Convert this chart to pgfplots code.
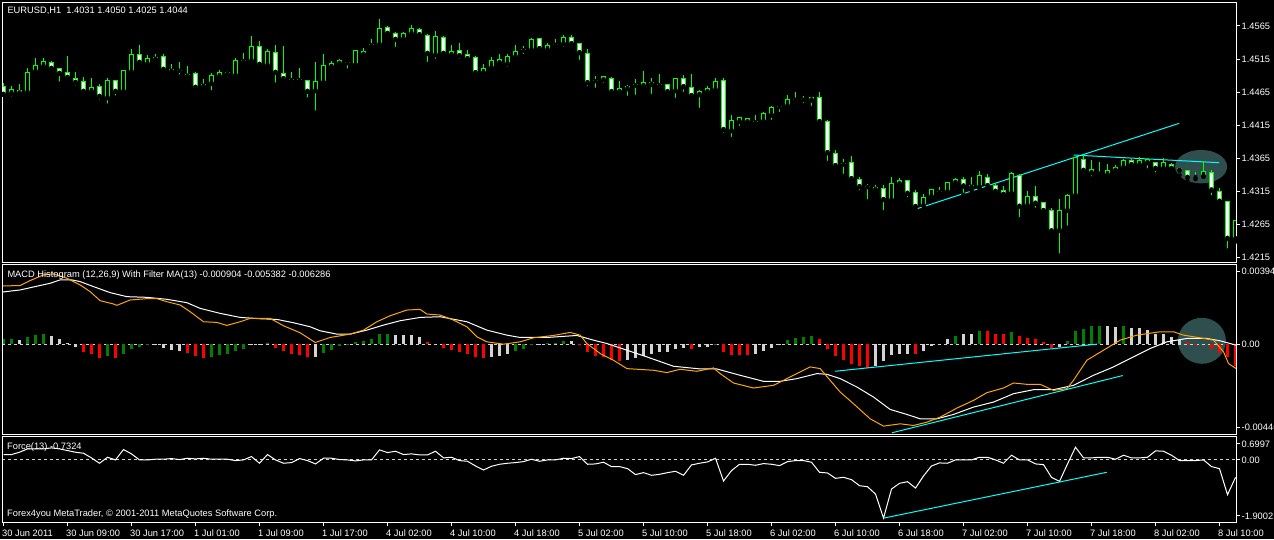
\documentclass[border=0pt]{standalone}
\usepackage{fontspec}
\setmainfont{Liberation Sans}
\usepackage{pgfplots}
\usepackage{pgfplotstable}
\pgfplotsset{compat=1.18}

\definecolor{mtgreen}{HTML}{00FF00}
\definecolor{hgreen}{HTML}{008000}
\definecolor{hred}{HTML}{FF0000}
\definecolor{hgray}{HTML}{D3D3D3}
\definecolor{morange}{HTML}{FFA500}
\definecolor{tline}{HTML}{00FFFF}
\definecolor{blob}{HTML}{2F4F4F}
\newcommand\mtfont{\fontsize{9.3}{11}\selectfont}

% EURUSD H1: bar index, open, high, low, close
\pgfplotstableread{
i o h l c
0 1.44734 1.44784 1.44609 1.44619
1 1.44634 1.44744 1.44553 1.44684
2 1.44669 1.44774 1.44568 1.44639
3 1.44649 1.45011 1.44609 1.44950
4 1.44966 1.45162 1.44955 1.45056
5 1.45041 1.45162 1.44996 1.45107
6 1.45102 1.45122 1.44945 1.45011
7 1.45011 1.45011 1.44779 1.44935
8 1.44950 1.45197 1.44810 1.44875
9 1.44860 1.44955 1.44719 1.44800
10 1.44815 1.44875 1.44598 1.44664
11 1.44664 1.44860 1.44619 1.44724
12 1.44739 1.44774 1.44507 1.44588
13 1.44568 1.44860 1.44447 1.44830
14 1.44830 1.44835 1.44568 1.44664
15 1.44664 1.44986 1.44649 1.44981
16 1.44961 1.45298 1.44915 1.45212
17 1.45222 1.45363 1.45071 1.45102
18 1.45081 1.45212 1.45061 1.45162
19 1.45177 1.45227 1.45097 1.45147
20 1.45192 1.45227 1.44961 1.44996
21 1.44986 1.45071 1.44945 1.44981
22 1.44981 1.45107 1.44885 1.44981
23 1.44920 1.45046 1.44885 1.44890
24 1.44930 1.44950 1.44659 1.44724
25 1.44769 1.44845 1.44689 1.44739
26 1.44784 1.44940 1.44644 1.44905
27 1.44890 1.44986 1.44825 1.44955
28 1.44950 1.44976 1.44845 1.44925
29 1.44905 1.45162 1.44875 1.45132
30 1.45122 1.45237 1.45097 1.45122
31 1.45127 1.45499 1.45097 1.45343
32 1.45343 1.45419 1.45036 1.45071
33 1.45056 1.45298 1.45006 1.45268
34 1.45253 1.45363 1.44764 1.44950
35 1.44935 1.45348 1.44840 1.44855
36 1.44835 1.44955 1.44764 1.44835
37 1.44835 1.45016 1.44800 1.44835
38 1.44830 1.44830 1.44538 1.44664
39 1.44674 1.45107 1.44341 1.44805
40 1.44800 1.45227 1.44795 1.45056
41 1.45036 1.45117 1.44976 1.45076
42 1.45087 1.45152 1.45056 1.45127
43 1.45097 1.45107 1.44976 1.45097
44 1.45066 1.45288 1.45061 1.45273
45 1.45258 1.45323 1.45212 1.45222
46 1.45363 1.45454 1.45308 1.45363
47 1.45373 1.45756 1.45338 1.45615
48 1.45630 1.45655 1.45474 1.45540
49 1.45540 1.45565 1.45303 1.45449
50 1.45459 1.45565 1.45439 1.45540
51 1.45535 1.45665 1.45499 1.45605
52 1.45590 1.45620 1.45499 1.45519
53 1.45509 1.45524 1.45076 1.45237
54 1.45217 1.45570 1.45122 1.45494
55 1.45479 1.45499 1.45187 1.45237
56 1.45217 1.45358 1.45152 1.45268
57 1.45283 1.45393 1.45122 1.45202
58 1.45222 1.45288 1.45107 1.45157
59 1.45177 1.45197 1.44925 1.44945
60 1.44945 1.45071 1.44945 1.45011
61 1.45021 1.45177 1.45001 1.45132
62 1.45147 1.45227 1.45061 1.45097
63 1.45081 1.45227 1.45001 1.45192
64 1.45187 1.45363 1.45157 1.45268
65 1.45288 1.45348 1.45197 1.45288
66 1.45293 1.45474 1.45258 1.45449
67 1.45464 1.45469 1.45273 1.45308
68 1.45293 1.45393 1.45258 1.45358
69 1.45373 1.45454 1.45318 1.45373
70 1.45383 1.45514 1.45303 1.45479
71 1.45479 1.45509 1.45353 1.45383
72 1.45388 1.45398 1.45107 1.45248
73 1.45237 1.45298 1.44709 1.44795
74 1.44825 1.44895 1.44684 1.44825
75 1.44880 1.44900 1.44759 1.44840
76 1.44860 1.44875 1.44624 1.44659
77 1.44659 1.44820 1.44659 1.44709
78 1.44739 1.44754 1.44563 1.44704
79 1.44759 1.44850 1.44578 1.44759
80 1.44749 1.44971 1.44699 1.44800
81 1.44800 1.44865 1.44593 1.44769
82 1.44759 1.44925 1.44684 1.44759
83 1.44769 1.44769 1.44624 1.44659
84 1.44674 1.44865 1.44533 1.44850
85 1.44860 1.44910 1.44624 1.44734
86 1.44724 1.44925 1.44593 1.44598
87 1.44614 1.44689 1.44382 1.44664
88 1.44659 1.44739 1.44624 1.44699
89 1.44689 1.44865 1.44624 1.44805
90 1.44820 1.44860 1.44004 1.44085
91 1.44070 1.44306 1.43943 1.44216
92 1.44206 1.44271 1.44110 1.44271
93 1.44256 1.44256 1.44171 1.44206
94 1.44201 1.44306 1.44130 1.44201
95 1.44211 1.44351 1.44201 1.44331
96 1.44306 1.44442 1.44201 1.44422
97 1.44432 1.44457 1.44321 1.44432
98 1.44447 1.44603 1.44397 1.44533
99 1.44543 1.44654 1.44502 1.44543
100 1.44543 1.44593 1.44457 1.44543
101 1.44563 1.44563 1.44412 1.44533
102 1.44573 1.44654 1.44155 1.44206
103 1.44211 1.44231 1.43581 1.43737
104 1.43727 1.43777 1.43506 1.43541
105 1.43566 1.43637 1.43385 1.43566
106 1.43591 1.43687 1.43300 1.43345
107 1.43335 1.43370 1.43134 1.43224
108 1.43224 1.43264 1.42999 1.43224
109 1.43214 1.43249 1.43109 1.43179
110 1.43199 1.43249 1.42838 1.43029
111 1.43024 1.43370 1.42999 1.43264
112 1.43310 1.43350 1.43209 1.43269
113 1.43320 1.43320 1.43034 1.43124
114 1.43139 1.43169 1.42883 1.42923
115 1.42938 1.43109 1.42933 1.43064
116 1.43074 1.43189 1.43059 1.43174
117 1.43149 1.43214 1.43124 1.43149
118 1.43149 1.43300 1.43114 1.43280
119 1.43285 1.43360 1.43234 1.43335
120 1.43335 1.43370 1.43099 1.43234
121 1.43244 1.43370 1.43164 1.43214
122 1.43224 1.43461 1.43194 1.43385
123 1.43365 1.43410 1.43199 1.43239
124 1.43234 1.43274 1.43124 1.43154
125 1.43169 1.43239 1.43089 1.43109
126 1.43124 1.43445 1.43124 1.43415
127 1.43395 1.43415 1.42732 1.42928
128 1.42938 1.43164 1.42913 1.43069
129 1.43069 1.43239 1.42873 1.42974
130 1.42979 1.42994 1.42848 1.42863
131 1.42858 1.42898 1.42551 1.42556
132 1.42566 1.43039 1.42181 1.42858
133 1.42868 1.43118 1.42601 1.43094
134 1.43094 1.43677 1.43064 1.43657
135 1.43637 1.43697 1.43395 1.43471
136 1.43476 1.43627 1.43345 1.43435
137 1.43425 1.43596 1.43415 1.43425
138 1.43405 1.43566 1.43395 1.43471
139 1.43471 1.43551 1.43405 1.43506
140 1.43516 1.43647 1.43466 1.43611
141 1.43621 1.43642 1.43541 1.43556
142 1.43556 1.43667 1.43526 1.43621
143 1.43627 1.43647 1.43466 1.43586
144 1.43586 1.43601 1.43405 1.43501
145 1.43501 1.43652 1.43476 1.43581
146 1.43556 1.43576 1.43481 1.43501
147 1.43501 1.43526 1.43395 1.43471
148 1.43471 1.43476 1.43305 1.43365
149 1.43375 1.43451 1.43335 1.43375
150 1.43380 1.43606 1.43375 1.43451
151 1.43440 1.43476 1.43059 1.43174
152 1.43149 1.43209 1.42999 1.43004
153 1.43004 1.43004 1.42257 1.42443
154 1.42438 1.42717 1.42393 1.42717
}\candles

% MACD histogram: index, value, colour code (0 gray, 1 green, 2 red)
\pgfplotstableread{
i v k
0 0.000265 1
1 0.000265 1
2 0.000215 0
3 0.000364 1
4 0.000463 1
5 0.000530 1
6 0.000414 0
7 0.000281 0
8 0.000066 0
9 -0.000116 0
10 -0.000364 2
11 -0.000463 2
12 -0.000662 2
13 -0.000563 1
14 -0.000662 2
15 -0.000463 1
16 -0.000215 1
17 -0.000149 1
18 -0.000050 1
19 -0.000017 0
20 -0.000166 0
21 -0.000281 0
22 -0.000314 0
23 -0.000430 2
24 -0.000563 2
25 -0.000662 2
26 -0.000629 1
27 -0.000530 1
28 -0.000463 1
29 -0.000314 1
30 -0.000215 1
31 -0.000033 0
32 -0.000050 0
33 0.000050 1
34 -0.000166 2
35 -0.000314 2
36 -0.000463 2
37 -0.000530 2
38 -0.000612 2
39 -0.000612 0
40 -0.000414 1
41 -0.000265 1
42 -0.000099 1
43 -0.000050 1
44 0.000116 1
45 0.000182 1
46 0.000281 1
47 0.000530 1
48 0.000530 1
49 0.000463 0
50 0.000463 0
51 0.000463 0
52 0.000348 0
53 0.000099 2
54 0.000033 0
55 -0.000166 2
56 -0.000265 2
57 -0.000364 2
58 -0.000463 2
59 -0.000612 2
60 -0.000662 2
61 -0.000612 0
62 -0.000563 0
63 -0.000463 0
64 -0.000314 1
65 -0.000215 1
66 -0.000033 1
67 -0.000017 0
68 0.000066 1
69 0.000066 1
70 0.000166 1
71 0.000166 0
72 -0.000033 2
73 -0.000364 2
74 -0.000563 2
75 -0.000612 2
76 -0.000761 2
77 -0.000828 2
78 -0.000761 0
79 -0.000662 0
80 -0.000563 0
81 -0.000463 0
82 -0.000364 0
83 -0.000364 0
84 -0.000215 0
85 -0.000166 0
86 -0.000215 2
87 -0.000149 0
88 -0.000116 0
89 -0.000033 1
90 -0.000364 2
91 -0.000513 2
92 -0.000513 2
93 -0.000513 2
94 -0.000463 0
95 -0.000314 0
96 -0.000166 0
97 -0.000050 0
98 0.000215 1
99 0.000314 1
100 0.000364 1
101 0.000414 1
102 0.000265 2
103 -0.000215 2
104 -0.000563 2
105 -0.000761 2
106 -0.000960 2
107 -0.001059 2
108 -0.001159 2
109 -0.001059 0
110 -0.000828 0
111 -0.000546 0
112 -0.000463 0
113 -0.000463 0
114 -0.000497 2
115 -0.000331 0
116 -0.000099 0
117 0.000033 0
118 0.000248 0
119 0.000397 1
120 0.000497 0
121 0.000497 0
122 0.000645 1
123 0.000645 2
124 0.000497 2
125 0.000497 2
126 0.000596 1
127 0.000397 2
128 0.000331 2
129 0.000248 2
130 0.000099 2
131 -0.000166 2
132 -0.000132 0
133 0.000149 1
134 0.000645 1
135 0.000778 1
136 0.000894 1
137 0.000894 1
138 0.000894 0
139 0.000844 0
140 0.000894 1
141 0.000794 0
142 0.000794 0
143 0.000695 0
144 0.000530 0
145 0.000497 0
146 0.000364 0
147 0.000232 0
148 0.000099 2
149 -0.000033 2
150 0.000000 0
151 -0.000215 2
152 -0.000430 2
153 -0.000629 2
154 -0.001059 2
}\hist

% MACD main line (white)
\pgfplotstableread{
i v
-0.42 0.002574
2.08 0.002689
5.83 0.003020
7.08 0.003186
8.54 0.003186
9.58 0.003103
11.25 0.002855
13.33 0.002557
15.42 0.002358
17.92 0.002325
20.42 0.002226
22.92 0.002060
24.58 0.001779
27.08 0.001531
29.58 0.001332
32.08 0.001266
34.17 0.001233
36.25 0.001067
38.33 0.000869
39.58 0.000670
41.67 0.000505
43.33 0.000505
45.42 0.000703
47.5 0.000952
49.58 0.001167
52.08 0.001332
54.58 0.001365
57.92 0.001117
60.42 0.000703
62.92 0.000455
64.58 0.000339
67.92 0.000339
71.67 0.000439
73.75 0.000207
75.42 0.000041
77.92 -0.000290
80.42 -0.000621
83.75 -0.001084
87.08 -0.001216
89.17 -0.001216
92.08 -0.001531
95.0 -0.001829
97.08 -0.001829
99.17 -0.001696
101.67 -0.001448
102.92 -0.001481
104.58 -0.001696
106.67 -0.002110
108.75 -0.002607
110.83 -0.003219
112.92 -0.003467
114.58 -0.003682
116.67 -0.003682
118.75 -0.003467
121.25 -0.003103
123.75 -0.002855
126.25 -0.002441
128.75 -0.002243
131.25 -0.002243
133.75 -0.002027
136.25 -0.001531
138.75 -0.001117
141.25 -0.000621
143.33 -0.000207
145.42 0.000124
147.92 0.000290
150.42 0.000290
152.08 0.000174
154.08 -0.000041
}\macdw

% MACD filter MA (orange)
\pgfplotstableread{
i v
-0.42 0.002888
2.08 0.002905
3.33 0.003153
5.0 0.003434
6.25 0.003484
7.92 0.003269
9.58 0.002938
10.83 0.002607
12.08 0.002160
13.75 0.001994
14.17 0.001928
15.83 0.002193
17.92 0.002259
19.17 0.002259
20.42 0.002110
22.08 0.001945
23.33 0.001614
25.0 0.001117
26.67 0.001084
27.92 0.000935
29.58 0.001117
30.83 0.001283
33.33 0.001283
35.0 0.000919
37.08 0.000571
38.96 0.000091
40.83 0.000339
43.33 0.000505
45.0 0.000703
46.67 0.001117
48.33 0.001415
50.42 0.001696
52.08 0.001729
52.92 0.001498
54.58 0.001448
56.25 0.001200
57.92 0.000869
59.17 0.000372
60.42 0.000124
62.5 0.000008
64.58 0.000124
66.25 0.000323
68.75 0.000439
70.83 0.000588
72.08 0.000455
72.92 0.000041
74.58 -0.000455
76.25 -0.000786
77.92 -0.001200
81.25 -0.001283
82.92 -0.001398
84.58 -0.001233
86.67 -0.001332
88.75 -0.001167
89.58 -0.001448
91.25 -0.001912
93.75 -0.002160
96.25 -0.002027
98.33 -0.001614
100.83 -0.001117
102.08 -0.001200
103.33 -0.001779
104.58 -0.002358
106.25 -0.002938
108.33 -0.003682
110.0 -0.004046
112.08 -0.003931
113.75 -0.004013
115.42 -0.003848
117.08 -0.003600
119.17 -0.003153
121.25 -0.002772
122.92 -0.002391
125.0 -0.002160
126.25 -0.001912
127.92 -0.001978
129.58 -0.001978
131.25 -0.002276
132.92 -0.002193
133.75 -0.001779
135.42 -0.000786
137.5 -0.000290
139.58 0.000207
141.67 0.000455
144.58 0.000621
146.25 0.000621
147.5 0.000455
149.58 0.000323
151.25 0.000207
152.5 -0.000372
153.13 -0.000952
154.08 -0.001200
}\macdo

% Force index (13)
\pgfplotstableread{
i v
0 0.175
1 0.175
2 0.251
3 0.360
4 0.360
5 0.360
6 0.393
7 0.360
8 0.306
9 0.251
10 0.218
11 0.066
12 -0.109
13 0.087
14 0
15 0.339
16 0.197
17 0
18 0
19 0.022
20 0.022
21 0.044
22 0.011
23 0.055
24 0.033
25 0.055
26 0.022
27 0.022
28 0.022
29 -0.022
30 0
31 0.109
32 -0.109
33 0.175
34 0
35 -0.109
36 -0.087
37 0.044
38 -0.022
39 -0.131
40 0.055
41 0.055
42 0.011
43 0
44 -0.033
45 0
46 0
47 0.328
48 0.240
49 0.284
50 0.175
51 0.197
52 0.164
53 0.164
54 0.284
55 0.066
56 0.087
57 -0.022
58 -0.044
59 -0.197
60 -0.328
61 -0.207
62 -0.142
63 -0.109
64 -0.087
65 -0.055
66 0.022
67 -0.044
68 0
69 0
70 0.055
71 0.044
72 0.109
73 -0.142
74 -0.131
75 -0.076
76 -0.218
77 -0.218
78 -0.284
79 -0.480
80 -0.415
81 -0.502
82 -0.470
83 -0.415
84 -0.371
85 -0.502
86 -0.164
87 -0.109
88 -0.066
89 0.055
90 -0.688
91 -0.349
92 -0.142
93 -0.142
94 -0.175
95 -0.120
96 -0.142
97 -0.186
98 -0.055
99 -0.022
100 -0.022
101 -0.076
102 -0.404
103 -0.426
104 -0.601
105 -0.568
106 -0.644
107 -0.841
108 -0.874
109 -1.114
110 -1.900
111 -0.950
112 -0.764
113 -0.710
114 -0.917
115 -0.524
116 -0.197
117 -0.098
118 -0.109
119 0
120 0
121 0
122 0.087
123 0.087
124 0
125 -0.109
126 0.153
127 0
128 0
129 -0.131
130 -0.153
131 -0.568
132 -0.699
133 -0.131
134 0.415
135 0.066
136 0.066
137 0.087
138 0.087
139 0.022
140 0.153
141 0.066
142 0.066
143 0.087
144 0.295
145 0.284
146 0.153
147 -0.022
148 -0.022
149 -0.022
150 0
151 -0.218
152 -0.284
153 -1.136
154 -0.568
}\force

\pgfplotsset{
  mt/.style={
    scale only axis, width=1234pt, anchor=south west,
    xmin=-0.125, xmax=154.125,
    axis line style={white, line width=1pt},
    axis on top,
    scaled ticks=false,
    xtick=\empty,
    ytick pos=right, tick align=outside,
    major tick length=3.5pt,
    tick style={white, line width=1pt},
    yticklabel style={white, font=\mtfont, anchor=west, inner sep=0pt, xshift=1.5pt},
  },
  wick/.style={only marks, mark=none, error bars/.cd, y dir=plus, y explicit,
    error mark=none, error bar style={mtgreen, line width=1pt}},
  body/.style={only marks, mark=none, error bars/.cd, y dir=plus, y explicit,
    error mark=none, error bar style={#1}},
}

\begin{document}
\begin{tikzpicture}
\fill[black] (0,0) rectangle (1274pt,539pt);

% price panel
\begin{axis}[mt, at={(2.5pt,276.5pt)}, height=260pt,
  ymin=1.420775, ymax=1.46005,
  ytick={1.4215,1.4265,1.4315,1.4365,1.4415,1.4465,1.4515,1.4565},
  yticklabels={1.4215,1.4265,1.4315,1.4365,1.4415,1.4465,1.4515,1.4565}]
\fill[blob] (axis cs:149.7,1.43525) ellipse [x radius=26pt, y radius=16.7pt];
\addplot[tline, line width=1pt] coordinates {(114.1,1.42886) (146.96,1.4418)};
\addplot[tline, line width=1pt] coordinates {(133.75,1.43701) (151.96,1.43585)};
\addplot[wick] table[x=i, y=l, y error plus expr={\thisrow{h}-\thisrow{l}}] {\candles};
\addplot[body={mtgreen, line width=5pt}] table[x=i,
  y expr={min(\thisrow{o},\thisrow{c})-0.000075},
  y error plus expr={abs(\thisrow{o}-\thisrow{c})+0.00015}] {\candles};
\addplot[restrict expr to domain={\thisrow{o}-\thisrow{c}}{0.0002:1},
  body={white, line width=3pt}] table[x=i,
  y expr={\thisrow{c}+0.000075},
  y error plus expr={\thisrow{o}-\thisrow{c}-0.00015}] {\candles};
\addplot[restrict expr to domain={\thisrow{c}-\thisrow{o}}{0.0002:1},
  body={black, line width=3pt}] table[x=i,
  y expr={\thisrow{o}+0.000075},
  y error plus expr={\thisrow{c}-\thisrow{o}-0.00015}] {\candles};
\end{axis}

% MACD panel
\begin{axis}[mt, at={(2.5pt,104.5pt)}, height=170pt,
  ymin=-0.004459, ymax=0.003948,
  ytick={-0.004127,0,0.0036}, yticklabels={-0.00446,0.00,0.003947}]
\fill[blob] (axis cs:149.8,0.000174) ellipse [x radius=24pt, y radius=23pt];
\addplot[hgray, line width=1pt, dash pattern=on 3pt off 3pt] coordinates {(-1,0) (156,0)};
\addplot[ycomb, hgray, line width=3pt, restrict expr to domain={\thisrow{k}}{0:0}] table[x=i, y=v] {\hist};
\addplot[ycomb, hgreen, line width=3pt, restrict expr to domain={\thisrow{k}}{1:1}] table[x=i, y=v] {\hist};
\addplot[ycomb, hred, line width=3pt, restrict expr to domain={\thisrow{k}}{2:2}] table[x=i, y=v] {\hist};
\addplot[white, line width=1pt] table[x=i, y=v] {\macdw};
\addplot[morange, line width=1pt] table[x=i, y=v] {\macdo};
\addplot[tline, line width=1pt] coordinates {(103.96,-0.001331) (136.7,0.00001)};
\addplot[tline, line width=1pt] coordinates {(111.05,-0.004375) (139.9,-0.001544)};
\end{axis}

% Force panel
\begin{axis}[mt, at={(2.5pt,16.5pt)}, height=86pt,
  ymin=-2.042, ymax=0.764,
  ytick={-1.824,0,0.524}, yticklabels={-1.9002,0.00,0.6997},
  xtick={0,8,...,152}, xtick pos=bottom,
  xticklabels={30 Jun 2011,30 Jun 09:00,30 Jun 17:00,1 Jul 01:00,1 Jul 09:00,1 Jul 17:00,4 Jul 02:00,4 Jul 10:00,4 Jul 18:00,5 Jul 02:00,5 Jul 10:00,5 Jul 18:00,6 Jul 02:00,6 Jul 10:00,6 Jul 18:00,7 Jul 02:00,7 Jul 10:00,7 Jul 18:00,8 Jul 02:00,8 Jul 10:00},
  xticklabel style={white, font=\mtfont, anchor=west, inner sep=0pt, yshift=-7.4pt, xshift=-1.5pt}]
\addplot[hgray, line width=1pt, dash pattern=on 3pt off 3pt] coordinates {(-1,0) (156,0)};
\addplot[white, line width=1pt] table[x=i, y=v] {\force};
\addplot[tline, line width=1pt] coordinates {(110,-1.900) (137.9,-0.404)};
\end{axis}

\begin{scope}[every node/.style={white, font=\mtfont, anchor=west, inner sep=0pt}]
\node at (7.3pt,528.3pt) {EURUSD,H1\ \ 1.4031 1.4050 1.4025 1.4044};
\node at (7.3pt,264pt) {MACD Histogram (12,26,9) With Filter MA(13) -0.000904 -0.005382 -0.006286};
\node at (7pt,92.3pt) {Force(13) -0.7324};
\node at (7pt,25pt) {Forex4you MetaTrader, © 2001-2011 MetaQuotes Software Corp.};
\end{scope}
\pgfresetboundingbox
\path (0,0) rectangle (1274pt,539pt);
\end{tikzpicture}
\end{document}
